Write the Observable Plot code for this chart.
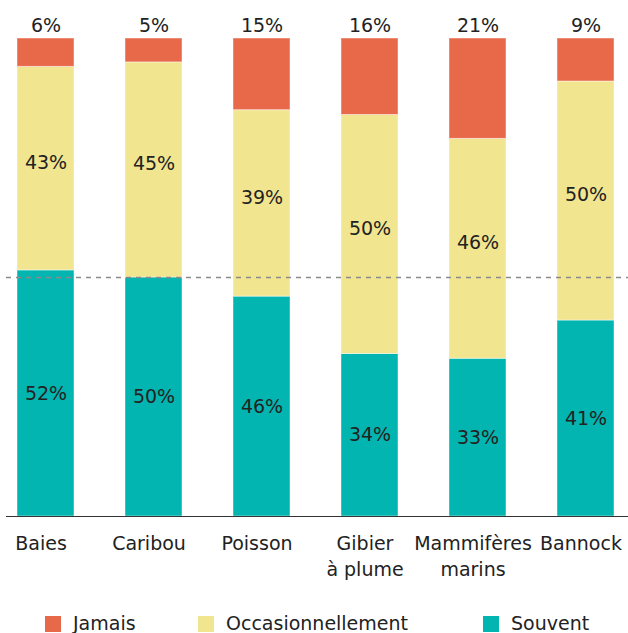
<!DOCTYPE html>
<html>
<head>
<meta charset="utf-8">
<script src="https://cdn.jsdelivr.net/npm/d3@7"></script>
<script src="https://cdn.jsdelivr.net/npm/@observablehq/plot@0.6"></script>
<style>
  html, body { margin: 0; padding: 0; background: #fff; overflow: hidden; }
  #wrap { position: relative; width: 628px; height: 633px; font-family: "DejaVu Sans", sans-serif; color: #222; }
  .leg { position: absolute; top: 614px; display: flex; align-items: center; font-size: 19px; line-height: 19px; height: 19px; }
  .sw { width: 16px; height: 16px; margin-right: 12px; }
</style>
</head>
<body>
<div id="wrap"></div>
<script>
const categories = ["Baies", "Caribou", "Poisson", "Gibier\nà plume", "Mammifères\nmarins", "Bannock"];
const series = ["Souvent", "Occasionnellement", "Jamais"];
const souvent = [52, 50, 46, 34, 33, 41];
const occasionnellement = [43, 45, 39, 50, 46, 50];
const jamais = [6, 5, 15, 16, 21, 9];
const colors = ["#02B5B0", "#F2E590", "#E8694A"];
const legendOrder = ["Jamais", "Occasionnellement", "Souvent"];

const values = {Souvent: souvent, Occasionnellement: occasionnellement, Jamais: jamais};
const rows = [];
categories.forEach((c, i) => {
  series.forEach(s => rows.push({cat: c, response: s, value: values[s][i]}));
});
const topRows = rows.filter(d => d.response === "Jamais");

const stackOpts = {x: "cat", y: "value", z: "response", order: series, offset: "normalize"};

const chart = Plot.plot({
  width: 628,
  height: 600,
  marginTop: 38,
  marginBottom: 84,
  marginLeft: 6,
  marginRight: 0,
  style: {fontFamily: "DejaVu Sans, sans-serif", fontSize: "19px", color: "#222", background: "#fff"},
  x: {domain: categories, range: [16, 615], paddingInner: 0.474, paddingOuter: 0, label: null},
  y: {domain: [0, 1], axis: null},
  color: {domain: series, range: colors},
  marks: [
    Plot.barY(rows, Plot.stackY({...stackOpts, fill: "response", stroke: "#fff", strokeOpacity: 0.45, strokeWidth: 1})),
    Plot.text(rows, Plot.stackY({...stackOpts, text: d => d.response === "Souvent" ? d.value + "%" : "", fill: "#222", fontSize: 19})),
    Plot.text(rows, Plot.stackY({...stackOpts, text: d => d.response === "Occasionnellement" ? d.value + "%" : "", dy: -6, fill: "#222", fontSize: 19})),
    Plot.text(topRows, {x: "cat", y: () => 1, text: d => d.value + "%", lineAnchor: "bottom", dy: -7, fill: "#222", fontSize: 19}),
    Plot.ruleY([0.5], {stroke: "#8a8a8a", strokeDasharray: "5,5", strokeWidth: 1.3}),
    Plot.ruleY([0], {stroke: "#333", strokeWidth: 1.2}),
    Plot.axisX({tickSize: 0, tickPadding: 15, label: null, lineHeight: 1.37, dx: -5, fontSize: 19, fill: "#222"})
  ]
});
const wrap = document.getElementById("wrap");
wrap.appendChild(chart);

const legLefts = [45, 198, 483];
legendOrder.forEach((s, i) => {
  const item = document.createElement("div");
  item.className = "leg";
  item.style.left = legLefts[i] + "px";
  const sw = document.createElement("div");
  sw.className = "sw";
  sw.style.background = colors[series.indexOf(s)];
  const t = document.createElement("span");
  t.textContent = s;
  item.appendChild(sw);
  item.appendChild(t);
  wrap.appendChild(item);
});
</script>
</body>
</html>
